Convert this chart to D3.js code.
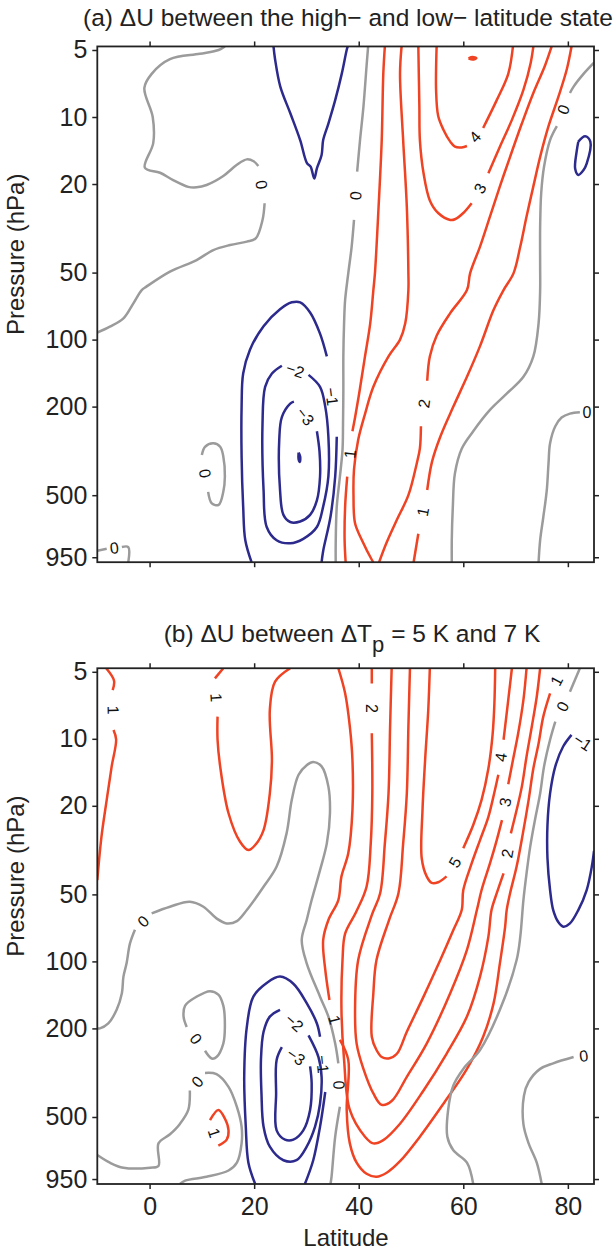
<!DOCTYPE html>
<html><head><meta charset="utf-8">
<script src="https://cdn.jsdelivr.net/npm/d3@7"></script>
<style>body{margin:0;background:#fff}</style>
</head><body>
<svg id="chart" width="615" height="1250"></svg>
<script>
// ---------- axes data ----------
const latDomain = [-10, 85];
const pDomain = [1000, 4.82];
const latTicks = [0, 20, 40, 60, 80];
const pTicks = [5, 10, 20, 50, 100, 200, 500, 950];
const titleA = "(a) \u0394U between the high\u2212 and low\u2212 latitude state";
const xLabel = "Latitude";
const yLabel = "Pressure (hPa)";

// ---------- panel (a) contours: [latitude, pressure]; a string = labelled gap ----------
const a_zero_nw = [[14.4,4.82],[13.2,5.0],[9.6,5.2],[3.9,5.5],[0.4,6.4],[-1.0,7.4],[0.6,10.0],[0.7,13.1],[-0.9,16.9],[2.0,17.8],[4.5,19.2],[7.4,20.6],[9.0,20.7],[10.9,20.2],[14.1,18.4],[16.7,16.4],[18.6,15.5],[19.9,15.8],[20.8,16.6],"0",[22.0,24.4],[21.6,29.0],[20.3,35.1],[18.6,36.3],[15.4,37.6],[12.2,39.6],[9.0,43.9],[3.9,49.5],[-0.6,57.8],[-1.5,59.9],[-3.1,68.7],[-5.0,80.3],[-7.6,87.5],[-10,93]];
const a_neg1_top = [[23.7,4.82],[24.0,5.5],[25.0,7.3],[26.9,9.6],[28.8,12.7],[30.1,16.1],[30.8,16.7],[31.5,18.9],[32.0,17.0],[32.9,14.8],[33.2,12.7],[34.2,10.7],[35.5,8.4],[36.75,6.4],[37.7,5.0],[37.9,4.82]];
const a_zero_mid = [[41.8,4.82],[41.5,5.9],[40.9,9.0],[40.25,12.7],[39.7,17.6],"0",[39.1,29.0],[38.65,38.2],[38.0,50.4],[37.4,66.4],[37.2,84.5],[37.06,119],[37.06,168],[37.0,238],[36.9,313],[36.4,413],[35.8,563],[35.6,822],[35.6,1000]];
const a_pos1_left = [[45.0,4.82],[44.7,6.4],[44.4,12.7],[43.8,25.3],[43.1,50.4],[42.8,59.9],[42.2,84.5],[41.2,119],[40.2,168],[39.3,224],[38.8,258],"1",[37.8,413],[37.4,563],[37.3,795],[37.5,1000]];
const a_pos2_left = [[48.2,4.82],[47.9,6.4],[48.5,12.7],[49.2,25.3],[49.5,50.4],[49.5,59.9],[48.9,84.5],[47.9,100],[45.7,119],[42.8,163],[41.2,216],[39.9,282],[39.1,383],[39.0,500],[39.3,669],[40.6,795],[42.5,975],[42.8,1000]];
const a_pos2_right = [[43.9,1000],[45.3,820],[47.3,645],[49.5,500],[51.1,360],[51.7,308],[51.9,245],"2",[53.1,153],[53.6,119],[54.9,96],[57.5,76],[60.7,59.9],[61.3,50.4],[63.2,38.2],[65.1,28.0],[67.0,20.5],[68.95,15.1],[71.2,10.7],[73.4,7.8],[75.6,5.9],[76.9,4.82]];
const a_pos3 = [[51.4,4.82],[51.6,9.0],[51.7,12.7],[52.4,17.9],[53.6,23.7],[55.2,27.0],[57.5,29.0],[58.4,28.8],[60.0,27.0],[61.6,24.4],"3",[64.8,17.9],[67.0,13.6],[69.3,10.3],[71.5,7.56],[72.9,5.7],[73.4,4.82]];
const a_pos4 = [[54.9,4.82],[54.8,7.6],[55.2,9.9],[56.2,11.4],[57.5,12.9],[58.4,13.6],[59.7,13.7],[60.7,13.5],"4",[63.8,11.2],[66.4,8.4],[68.6,6.4],[69.5,4.82]];
const a_pos5 = [[61.0,5.45],[61.8,5.38],[62.5,5.45],[61.8,5.52],[61.0,5.45]];
const a_pos1_right = [[80.7,4.82],[79.8,6.1],[78.2,8.1],[76.3,11.0],[74.7,15.1],[73.4,20.5],[72.1,28.0],[70.9,38.2],[69.6,50.4],[67.7,59.9],[65.8,73.5],[63.2,107],[60.7,147],[58.1,200],[55.6,273],[54.0,355],[53.1,474],"1",[51.4,745],[50.5,1000]];
const a_zero_ne = [[85,5.7],[83.0,6.4],[81.1,7.3],[80.4,7.8],"0",[77.9,11.0],[76.6,12.7],[75.45,16.7],[74.9,22.0],[74.7,31.0],[74.7,47.1],[74.7,59.9],[74.4,84.5],[73.4,119],[71.5,147],[68.3,175],[65.1,207],[61.9,258],[59.7,309],[58.4,399],[58.0,563],[57.8,795],[57.8,1000]];
const a_zero_se = [[85,212],"0",[82.3,212],[80.4,215],[78.8,224],[77.6,245],[76.6,292],[76.3,360],[75.97,474],[75.3,628],[74.7,795],[74.4,1000]];
const a_neg1_ne = [[82.0,12.9],[83.3,12.2],[84.3,12.9],[83.6,16.2],[83.0,17.3],[82.0,18.2],[81.4,17.1],[81.7,14.2],[82.0,12.9]];
const a_neg1_low = [[19.5,1000],[18.3,795],[17.9,563],[17.6,335],[17.6,200],[17.9,142],[19.2,111],[21.8,87],[24.95,73],[27.2,68],[28.8,68],[30.7,75.5],[32.6,94],[33.9,119],"\u22121",[35.8,273],[35.5,412],[34.6,625],[33.2,890],[32.9,1000]];
const a_neg2 = [[30.4,144],[32.6,163],[33.6,200],[34.2,273],[34.2,412],[33.2,563],[32.0,695],[29.4,785],[26.9,822],[24.3,797],[22.4,695],[21.8,474],[21.6,238],[22.1,163],[23.4,142],[25.3,131],"\u22122",[30.4,144]];
const a_neg3 = [[32.0,258],[32.5,318],[32.6,413],[32.0,528],[30.7,613],[28.8,656],[26.9,660],[25.6,613],[24.95,474],[24.8,282],[25.3,223],[26.9,194],[27.6,190],"\u22123",[32.0,258]];
const a_neg4 = [[28.5,322],[28.8,335],[28.75,355],[28.5,345],[28.5,322]];
const a_zero_loop = [[11.2,483],[11.9,544],[13.2,553],[14.1,483],[14.4,412],[14.1,335],[13.5,303],[12.2,292],[10.6,303],[10.0,330],"0",[11.2,483]];
const a_zero_sw = [[-10,888],[-8.2,870],"0",[-5.3,855],[-4.07,855],[-4.07,1000]];

// ---------- panel (b) contours ----------
const b_pos1_w = [[-8.3,4.82],[-6.8,5.48],[-7.06,6.04],"1",[-6.9,9.13],[-6.4,10.06],[-7.25,13.3],[-8.2,18.8],[-9.2,27.5],[-10,43.1]];
const b_pos1_u = [[14.1,4.82],[12.5,5.35],"1",[13.0,7.95],[13.0,10.1],[13.5,13.3],[15.1,21.6],[17.3,29.0],[18.9,31.6],[20.2,30.0],[21.8,25.7],[23.0,17.6],[23.4,12.45],[23.0,7.42],[24.0,5.54],[26.9,4.82]];
const b_pos1 = [[36.1,4.82],[37.4,6.25],[38.3,8.82],[38.8,12.45],[38.8,20.9],[38.0,32.7],[36.7,41.5],[36.1,53.0],[34.2,65.2],[33.2,80.2],[33.6,109],[34.4,149],"1",[36.4,225],[38.0,277],[37.7,465],[38.3,657],[39.6,802],[41.5,900],[43.4,928],[45.35,890],[47.9,790],[51.7,613],[56.2,436],[60.7,304],[63.8,218],[65.8,154],[67.0,102],[68.0,70.0],[68.3,58.8],[68.95,49.4],[70.2,37.5],[71.4,26.6],[72.5,18.8],[73.4,13.6],[74.4,10.5],[75.3,7.95],[76.6,6.25],"1",[79.1,4.82]];
const b_pos2 = [[42.5,4.82],[42.5,5.64],"2",[42.5,9.45],[42.6,17.6],[42.3,29.5],[41.5,46.2],[39.5,60],[37.4,75],[36.9,98.6],[36.7,165],[37.2,277],[38.3,465],[41.2,613],[42.8,657],[44.7,635],[47.9,536],[52.4,380],[56.8,260],[60.7,177],[63.2,117],[64.8,77.4],[65.4,58.8],[66.4,49.4],[67.7,40.2],"2",[69.1,26.6],[70.2,20.9],[71.2,16.4],[72.1,12.0],[73.1,8.82],[74.05,6.47],[74.7,4.82]];
const b_pos3 = [[46.3,4.82],[46.0,8.82],[45.7,17.6],[45.0,29.5],[44.1,49.4],[42.5,62],[39.9,98.6],[39.3,165],[39.6,234],[40.9,304],[42.8,392],[44.4,441],[46.3,424],[49.2,330],[53.0,234],[57.5,139],[60.7,88.8],[62.6,58.8],[63.5,47.8],[65.1,36.3],[66.4,28.5],[67.4,23.2],"3",[68.6,16.0],[69.5,12.45],[70.5,9.45],[71.5,6.69],[72.1,4.82]];
const b_pos4 = [[49.8,4.82],[49.5,8.82],[49.2,17.6],[48.5,29.5],[47.6,49.4],[45.8,65.2],[43.4,98.6],[42.8,139],[42.5,218],[43.4,250],[44.4,269],[45.7,273],[47.3,260],[49.2,207],[52.4,144],[55.6,98.6],[58.1,72.3],[59.7,58.8],[60.0,47.8],[61.6,36.3],[63.2,28.5],[64.8,22.4],[65.9,17.6],[66.7,14.5],"4",[67.7,10.1],[68.0,8.82],[68.6,6.69],[69.3,4.82]];
const b_pos5 = [[53.6,4.82],[53.3,7.42],[52.7,12.45],[52.2,20.9],[52.05,34.4],[53.0,41.5],[53.96,44.4],[55.2,44.1],[56.8,41.5],"5",[60.0,31.0],[61.9,24.4],[63.5,18.8],[64.8,13.6],[65.6,9.6],[65.95,6.93],[66.1,4.82]];
const b_pos1_loop = [[11.56,517],[13.15,465],[14.4,508],[15.1,574],[14.75,632],[13.15,673],"1",[11.56,517]];
const b_zero_w = [[-10,200],[-9.5,200],[-7.9,190],[-6.3,165],[-5.3,139],[-5.0,117],[-4.4,102],[-3.75,83],[-2.8,72],"0",[0.4,60.8],[3.9,56.8],[7.7,53.9],[10.3,56.8],[12.8,64.1],[14.75,67.5],[16.7,65.9],[18.6,58.8],[21.8,46.2],[24.3,37.5],[26.2,26.6],[27.2,18.8],[28.5,14.5],[30.1,13.1],[31.3,12.7],[32.9,13.3],[34.2,16.4],[34.5,21.6],[33.9,29.5],[32.6,38.9],[31.0,53.0],[30.05,65.2],[29.1,80.2],[30.05,102],[32.6,144],[34.2,177],[35.5,234],[36.1,287],"0",[36.4,450],[35.5,613],[34.8,928],[34.6,1000]];
const b_zero_loop = [[10.6,252],[11.9,273],[12.8,269],[14.1,234],[14.4,197],[14.1,158],[13.15,141],[11.56,136],[9.0,144],[6.8,158],[6.5,177],[7.1,197],"0",[10.6,252]];
const b_zero_sw = [[-10,741],[-7.6,802],[-5.0,845],[0.1,845],[1.7,830],[1.7,657],[3.9,598],[5.8,537],[7.4,465],[7.7,380],"0",[10.6,317],[12.8,321],[15.1,366],[16.7,450],[17.6,553],[17.6,657],[16.7,802],[15.1,870],[10.9,928],[6.8,965],[5.8,1000]];
const b_neg1 = [[20.2,1000],[18.9,802],[18.4,553],[18.1,330],[18.6,197],[19.85,144],[22.4,125],[24.95,117],[27.5,126],[30.05,154],[32.0,190],[32.6,218],"\u22121",[33.6,386],[32.6,553],[31.3,782],[29.7,1000]];
const b_neg2 = [[30.4,215],[32.3,269],[32.9,330],[32.6,436],[31.65,553],[30.05,680],[28.1,782],[25.6,782],[23.0,680],[21.8,553],[21.4,392],[21.3,277],[21.8,207],[23.0,177],[24.95,165],"\u22122",[30.4,215]];
const b_neg3 = [[25.3,243],[24.3,277],[24.2,392],[24.3,574],[25.9,632],[27.5,632],[29.4,574],[30.7,465],[31.0,353],[30.7,296],"\u22123",[25.3,243]];
const b_zero_e = [[82.3,4.82],[80.4,6.14],"0",[77.6,8.37],[76.6,10.1],[75.45,13.3],[74.7,17.6],[73.7,23.2],[72.8,30.5],[72.1,40.2],[71.5,53.0],[70.9,77.4],[70.2,98.6],[67.0,165],[63.2,250],[60.0,304],[58.1,361],[57.1,465],[56.95,613],[58.1,706],[60.7,802],[61.9,1000]];
const b_zero_se = [[85,262],"0",[81.1,269],[77.2,287],[74.7,304],[72.5,348],[71.6,401],[71.5,538],[72.5,657],[74.05,802],[75.0,1000]];
const b_neg1_e = [[85,11.2],"\u22121",[80.7,9.6],[79.1,10.83],[77.6,13.3],[76.6,17.6],[76.1,24.4],[76.1,34.4],[76.6,47.8],[77.2,58.8],[78.2,66.7],[79.15,69.8],[80.4,67.5],[82.0,58.8],[83.6,47.8],[84.6,37.3],[85,31.9]];

const panelA = [
  {lvl:0, pts:a_zero_nw},{lvl:-1, pts:a_neg1_top},{lvl:0, pts:a_zero_mid},{lvl:1, pts:a_pos1_left},
  {lvl:2, pts:a_pos2_left},{lvl:2, pts:a_pos2_right},{lvl:3, pts:a_pos3},{lvl:4, pts:a_pos4},{lvl:5, pts:a_pos5},
  {lvl:1, pts:a_pos1_right},{lvl:0, pts:a_zero_ne},{lvl:0, pts:a_zero_se},{lvl:-1, pts:a_neg1_ne},
  {lvl:-1, pts:a_neg1_low},{lvl:-2, pts:a_neg2},{lvl:-3, pts:a_neg3},{lvl:-4, pts:a_neg4},
  {lvl:0, pts:a_zero_loop},{lvl:0, pts:a_zero_sw}
];
const panelB = [
  {lvl:1, pts:b_pos1_w},{lvl:1, pts:b_pos1_u},{lvl:1, pts:b_pos1},{lvl:2, pts:b_pos2},{lvl:3, pts:b_pos3},
  {lvl:4, pts:b_pos4},{lvl:5, pts:b_pos5},{lvl:1, pts:b_pos1_loop},{lvl:0, pts:b_zero_w},{lvl:0, pts:b_zero_loop},
  {lvl:0, pts:b_zero_sw},{lvl:-1, pts:b_neg1},{lvl:-2, pts:b_neg2},{lvl:-3, pts:b_neg3},{lvl:0, pts:b_zero_e},
  {lvl:0, pts:b_zero_se},{lvl:-1, pts:b_neg1_e}
];

// ---------- drawing ----------
const FONT = "'Liberation Sans', Arial, Helvetica, sans-serif";
const svg = d3.select('#chart');
const X0 = 97.3, X1 = 594;
const colour = l => l > 0 ? '#ef4323' : (l < 0 ? '#2c2a8c' : '#9b9b9b');

function drawPanel(id, top, bottom, contours, showX) {
  const x = d3.scaleLinear().domain(latDomain).range([X0, X1]);
  const y = d3.scaleLog().domain(pDomain).range([bottom, top]);
  svg.append('clipPath').attr('id', 'clip' + id).append('rect')
    .attr('x', X0).attr('y', top).attr('width', X1 - X0).attr('height', bottom - top);
  const cg = svg.append('g').attr('clip-path', `url(#clip${id})`);
  const line = d3.line().x(d => x(d[0])).y(d => y(d[1])).curve(d3.curveCatmullRom.alpha(0.5));
  const labels = [];
  contours.forEach(c => {
    const segs = [[]];
    c.pts.forEach((pt, i) => {
      if (typeof pt === 'string') {
        labels.push({t: pt, a: c.pts[i - 1], b: c.pts[i + 1]});
        segs.push([]);
      } else segs[segs.length - 1].push(pt);
    });
    segs.filter(s => s.length > 1).forEach(s => {
      cg.append('path').attr('d', line(s)).attr('fill', 'none')
        .attr('stroke', colour(c.lvl)).attr('stroke-width', 2.5)
        .attr('stroke-linejoin', 'round');
    });
  });
  labels.forEach(L => {
    const ax = x(L.a[0]), ay = y(L.a[1]), bx = x(L.b[0]), by = y(L.b[1]);
    let ang = Math.atan2(by - ay, bx - ax) * 180 / Math.PI;
    if (ang > 90) ang -= 180;
    if (ang < -90) ang += 180;
    const cx = (ax + bx) / 2, cy = (ay + by) / 2;
    svg.append('text').attr('transform', `translate(${cx},${cy}) rotate(${ang})`)
      .attr('text-anchor', 'middle').attr('dy', '0.35em')
      .attr('font-family', FONT).attr('font-size', 16).attr('fill', '#111').text(L.t);
  });
  // frame
  svg.append('rect').attr('x', X0).attr('y', top).attr('width', X1 - X0).attr('height', bottom - top)
    .attr('fill', 'none').attr('stroke', '#222').attr('stroke-width', 1.8);
  const styleAxis = g => {
    g.select('.domain').remove();
    g.selectAll('line').attr('stroke', '#222').attr('stroke-width', 1.5);
    g.selectAll('text').attr('font-family', FONT).attr('font-size', 25).attr('fill', '#222');
  };
  svg.append('g').attr('transform', `translate(${X0},0)`)
    .call(d3.axisLeft(y).tickValues(pTicks).tickSize(5).tickPadding(5).tickFormat(d3.format('d'))).call(styleAxis);
  svg.append('g').attr('transform', `translate(${X1},0)`)
    .call(d3.axisRight(y).tickValues(pTicks).tickSize(5).tickFormat('')).call(styleAxis);
  svg.append('g').attr('transform', `translate(0,${top})`)
    .call(d3.axisTop(x).tickValues(latTicks).tickSize(5).tickFormat('')).call(styleAxis);
  svg.append('g').attr('transform', `translate(0,${bottom})`)
    .call(d3.axisBottom(x).tickValues(latTicks).tickSize(5).tickPadding(8).tickFormat(showX ? d3.format('d') : '')).call(styleAxis);
  svg.append('text').attr('transform', `translate(24,${(top + bottom) / 2 - 50}) rotate(-90)`)
    .attr('text-anchor', 'middle').attr('font-family', FONT).attr('font-size', 24).attr('fill', '#222').text(yLabel);
}

drawPanel('a', 46.45, 562.2, panelA, false);
drawPanel('b', 668.25, 1184, panelB, true);

svg.append('text').attr('x', 348).attr('y', 26).attr('text-anchor', 'middle')
  .attr('font-family', FONT).attr('font-size', 24.5).attr('fill', '#222').text(titleA);
const tb = svg.append('text').attr('x', 352).attr('y', 642).attr('text-anchor', 'middle')
  .attr('font-family', FONT).attr('font-size', 24.5).attr('fill', '#222');
tb.append('tspan').text('(b) \u0394U between \u0394T');
tb.append('tspan').attr('dy', 10).attr('font-size', 22).text('p');
tb.append('tspan').attr('dy', -10).text(' = 5 K and 7 K');
svg.append('text').attr('x', 346).attr('y', 1246).attr('text-anchor', 'middle')
  .attr('font-family', FONT).attr('font-size', 24).attr('fill', '#222').text(xLabel);
</script>
</body></html>
